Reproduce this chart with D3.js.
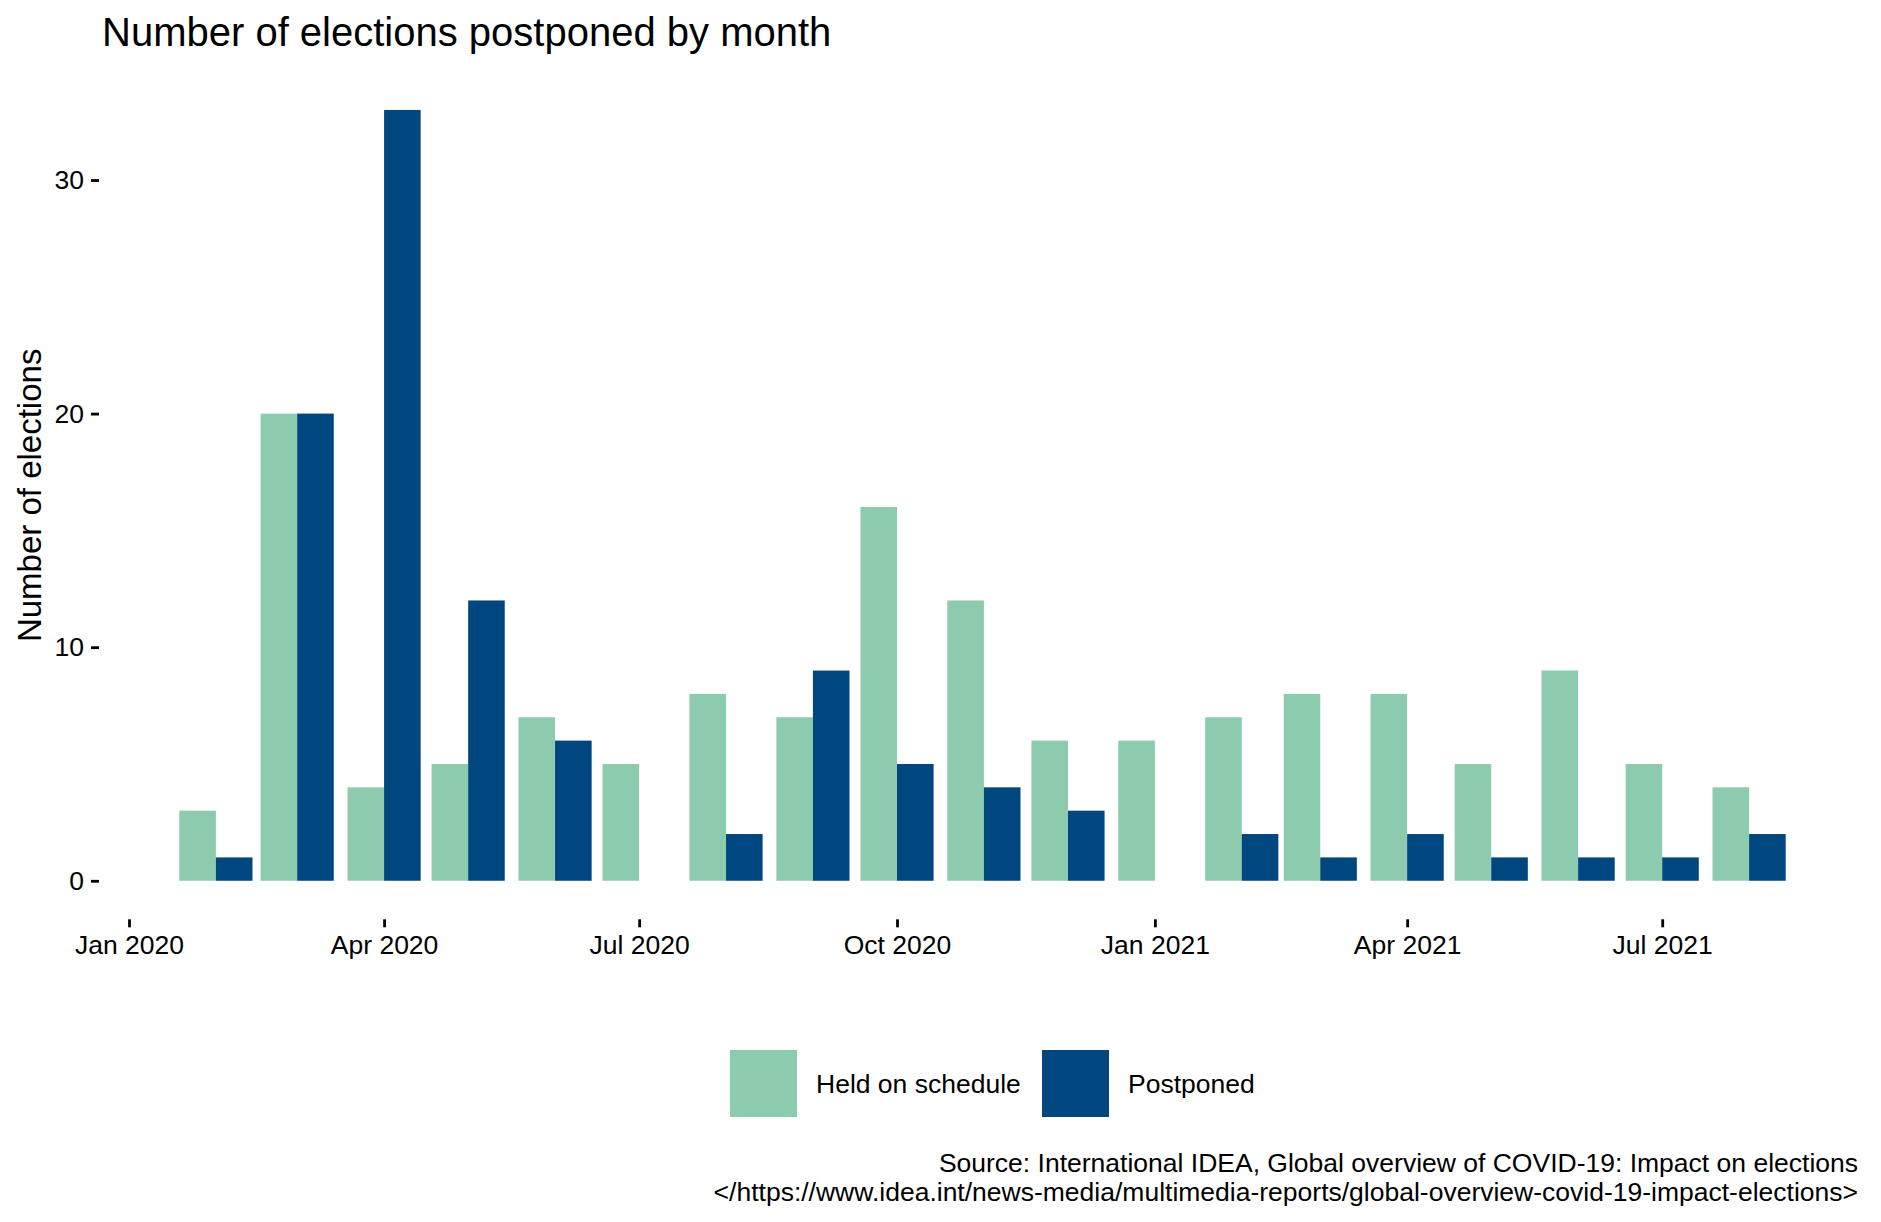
<!DOCTYPE html>
<html><head><meta charset="utf-8">
<script src="https://cdn.jsdelivr.net/npm/d3@7"></script>
<style>body{margin:0;background:#fff}svg{display:block;font-family:"Liberation Sans",Arial,sans-serif}</style>
</head><body><svg id="c" width="1881" height="1222"></svg>
<script>
const months = ["2020-02","2020-03","2020-04","2020-05","2020-06","2020-07","2020-08","2020-09","2020-10","2020-11","2020-12","2021-01","2021-02","2021-03","2021-04","2021-05","2021-06","2021-07","2021-08"];
const held = [3,20,4,5,7,5,8,7,16,12,6,6,7,8,8,5,9,5,4];
const postponed = [1,20,33,12,6,0,2,9,5,4,3,0,2,1,2,1,1,1,2];
const seriesNames = ["Held on schedule","Postponed"];
const colors = ["#8CCBAD","#00467F"];
const xTickLabels = ["Jan 2020","Apr 2020","Jul 2020","Oct 2020","Jan 2021","Apr 2021","Jul 2021"];
const yTicks = [0,10,20,30];

const svg = d3.select("#c");
const parse = d3.utcParse("%Y-%m");
const dates = months.map(parse);
const DAY = 864e5;
const halfW = 0.9*29/2*DAY;
const lo = +dates[0]-halfW, hi = +dates[dates.length-1]+halfW, ex = (hi-lo)*0.05;
const panel = {l:99, r:1866, t:71.4, b:919.3};
const x = d3.scaleUtc().domain([new Date(lo-ex), new Date(hi+ex)]).range([panel.l, panel.r]);
const ymax = d3.max(held.concat(postponed));
const y = d3.scaleLinear().domain([-ymax*0.05, ymax*1.05]).range([panel.b, panel.t]);

const data = [];
dates.forEach((d,i)=>{
  [held[i], postponed[i]].forEach((v,s)=>data.push({d, v, s}));
});
svg.append("g").selectAll("rect").data(data).join("rect")
  .attr("x", d => d.s===0 ? x(new Date(+d.d-halfW)) : x(d.d))
  .attr("width", d => d.s===0 ? x(d.d)-x(new Date(+d.d-halfW)) : x(new Date(+d.d+halfW))-x(d.d))
  .attr("y", d => y(d.v))
  .attr("height", d => y(0)-y(d.v))
  .attr("fill", d => colors[d.s]);

// x axis
const xt = xTickLabels.map(s => d3.utcParse("%b %Y")(s));
const xa = d3.axisBottom(x).tickValues(xt).tickFormat((d,i)=>xTickLabels[i]).tickSize(8).tickPadding(8);
const gx = svg.append("g").attr("transform",`translate(0,${panel.b})`).call(xa);
gx.select(".domain").remove();
gx.selectAll("line").attr("stroke","#000").attr("stroke-width",2.8);
gx.selectAll("text").attr("font-size",26.5).attr("fill","#000").attr("font-family","Liberation Sans, Arial");

// y axis
const ya = d3.axisLeft(y).tickValues(yTicks).tickSize(8).tickPadding(7);
const gy = svg.append("g").attr("transform",`translate(${panel.l},0)`).call(ya);
gy.select(".domain").remove();
gy.selectAll("line").attr("stroke","#000").attr("stroke-width",2.8);
gy.selectAll("text").attr("font-size",26.5).attr("fill","#000").attr("font-family","Liberation Sans, Arial");

// titles
svg.append("text").attr("x",102).attr("y",46).attr("font-size",40).attr("fill","#000").text("Number of elections postponed by month");
svg.append("text").attr("transform",`translate(41,${(panel.t+panel.b)/2}) rotate(-90)`).attr("text-anchor","middle").attr("font-size",33).attr("fill","#000").text("Number of elections");

// legend
const lg = svg.append("g");
const keyX = [730, 1042], txtX = [816, 1128];
seriesNames.forEach((n,i)=>{
  lg.append("rect").attr("x",keyX[i]).attr("y",1050).attr("width",67).attr("height",67).attr("fill",colors[i]);
  lg.append("text").attr("x",txtX[i]).attr("y",1084).attr("dy","0.35em").attr("font-size",26.5).attr("fill","#000").text(n);
});

// caption
const cap = ["Source: International IDEA, Global overview of COVID-19: Impact on elections","</https://www.idea.int/news-media/multimedia-reports/global-overview-covid-19-impact-elections>"];
cap.forEach((t,i)=>svg.append("text").attr("x",1858).attr("y",1172+i*29).attr("text-anchor","end").attr("font-size",26.5).attr("fill","#000").text(t));
</script></body></html>
